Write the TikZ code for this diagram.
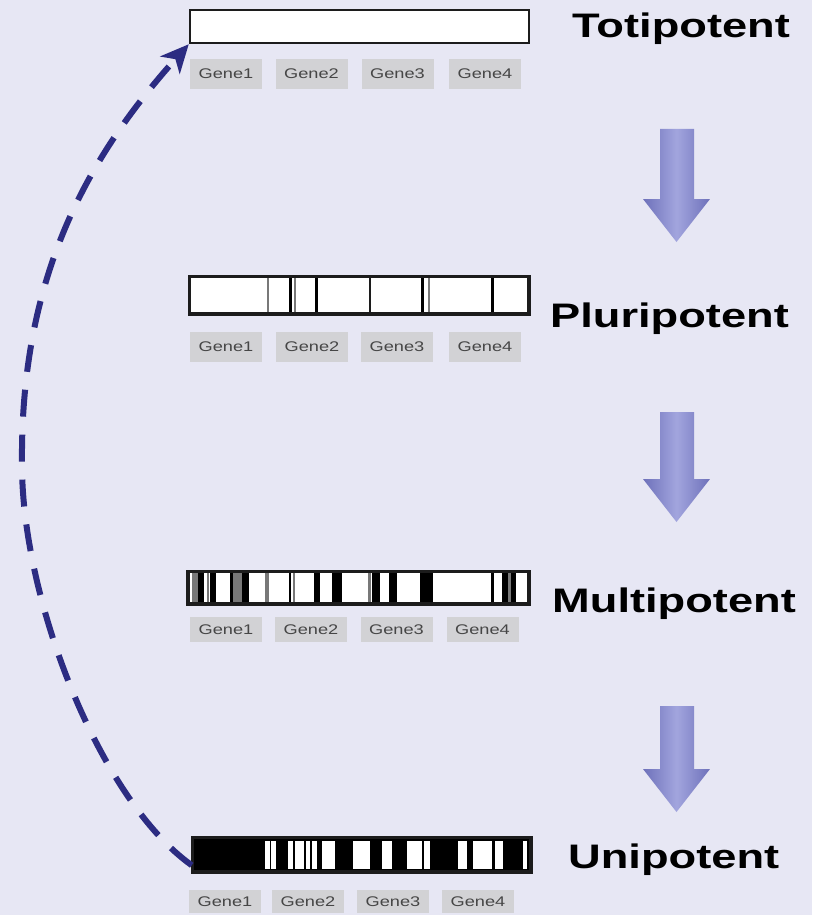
\documentclass[tikz,border=0pt]{standalone}
\usepackage{fontspec}
\setmainfont{Liberation Sans}
\usepackage{graphicx}
\usetikzlibrary{arrows.meta}
\definecolor{bg}{RGB}{231,231,244}
\definecolor{genebox}{RGB}{210,210,213}
\definecolor{genetext}{RGB}{70,70,70}
\definecolor{curvecol}{RGB}{44,44,130}
\definecolor{arrowlight}{RGB}{162,165,222}
\definecolor{arrowdark}{RGB}{110,113,186}
\definecolor{barline}{RGB}{28,28,28}
\definecolor{stripegray}{RGB}{120,120,120}
\newcommand\gtxt[1]{\scalebox{1.3}[1]{#1}}
\newcommand\ltxt[1]{\scalebox{1.33}[1]{#1}}
\begin{document}
\begin{tikzpicture}[x=1pt,y=-1pt,
  barbox/.style={draw=barline, line width=2.5pt, fill=white, inner sep=0pt},
  barborder/.style={draw=barline, line width=2.5pt},
  genenode/.style={fill=genebox, inner sep=0pt, minimum width=72pt, text=genetext,
    font=\fontsize{14}{16}\selectfont},
  stagelabel/.style={anchor=base west, inner sep=0pt, font=\fontsize{34}{40}\selectfont\bfseries},
  bigarrow/.style={shading=axis, left color=arrowdark, right color=arrowdark, middle color=arrowlight},
  returnline/.style={draw=curvecol, line width=6pt, dash pattern=on 27pt off 18pt,
    -{Stealth[length=28pt,width=26pt,inset=8pt]}}
]
\useasboundingbox (0,0) rectangle (812,915);
\fill[bg] (0,0) rectangle (812,915);

% ---- Totipotent ----
\node[barbox, minimum width=339pt, minimum height=33pt] (toti) at (359.5,26.5) {};
\node[genenode, minimum height=30pt] (t1) at (226,74) {\gtxt{Gene1}};
\node[genenode, minimum height=30pt] (t2) at (311.5,74) {\gtxt{Gene2}};
\node[genenode, minimum height=30pt] (t3) at (397.5,74) {\gtxt{Gene3}};
\node[genenode, minimum height=30pt] (t4) at (485,74) {\gtxt{Gene4}};
\node[stagelabel] (ltoti) at (572,38) {\ltxt{Totipotent}};

% ---- Pluripotent ----
\node[barbox, minimum width=338pt, minimum height=36pt] (pluri) at (359,295) {};
\foreach \a/\b/\c in {266.5/268.5/stripegray, 289/291.5/black, 294/296/stripegray,
  314.5/318/black, 368.5/370.5/barline, 421/423.5/black, 427.5/429.5/stripegray, 490.5/494/black}
  \fill[\c] (\a,278) rectangle (\b,312);
\draw[barborder] (pluri.north west) rectangle (pluri.south east);
\node[genenode, minimum height=30pt] (p1) at (226,347) {\gtxt{Gene1}};
\node[genenode, minimum height=30pt] (p2) at (312,347) {\gtxt{Gene2}};
\node[genenode, minimum height=30pt] (p3) at (397,347) {\gtxt{Gene3}};
\node[genenode, minimum height=30pt] (p4) at (485,347) {\gtxt{Gene4}};
\node[stagelabel] (lpluri) at (550,327) {\ltxt{Pluripotent}};

% ---- Multipotent ----
\node[barbox, minimum width=340pt, minimum height=31pt] (multi) at (358.5,587.5) {};
\foreach \a/\b/\c in {192/197.5/stripegray, 197.5/203.5/black, 206.5/208.5/stripegray,
  210/215.5/black, 230/233/black, 233/241.5/stripegray, 241.5/248.5/black,
  264.5/268.5/stripegray, 288.5/291/black, 292.5/295/stripegray, 313.5/320/black,
  332/342/black, 368/370.5/stripegray, 372/380/black, 388.5/396.5/black,
  420/433/black, 490.5/493.5/black, 502/508/black, 508/511/stripegray, 511/516/black}
  \fill[\c] (\a,573) rectangle (\b,602);
\draw[barborder] (multi.north west) rectangle (multi.south east);
\node[genenode, minimum height=25pt] (m1) at (226,629.5) {\gtxt{Gene1}};
\node[genenode, minimum height=25pt] (m2) at (311,629.5) {\gtxt{Gene2}};
\node[genenode, minimum height=25pt] (m3) at (396.5,629.5) {\gtxt{Gene3}};
\node[genenode, minimum height=25pt] (m4) at (482.5,629.5) {\gtxt{Gene4}};
\node[stagelabel] (lmulti) at (552,612) {\ltxt{Multipotent}};

% ---- Unipotent ----
\node[barbox, fill=black, minimum width=337pt, minimum height=33pt] (uni) at (361.5,854.5) {};
\foreach \a/\b in {265/269.5, 271/276, 287.5/293, 295/304, 306/310, 312/317, 322/335, 353/370,
  382/392, 407/422, 424/430, 458/467, 473/492, 495/503, 523/527}
  \fill[white] (\a,840.5) rectangle (\b,868.5);
\draw[barborder] (uni.north west) rectangle (uni.south east);
\node[genenode, minimum height=23pt] (u1) at (225,901.5) {\gtxt{Gene1}};
\node[genenode, minimum height=23pt] (u2) at (308,901.5) {\gtxt{Gene2}};
\node[genenode, minimum height=23pt] (u3) at (393,901.5) {\gtxt{Gene3}};
\node[genenode, minimum height=23pt] (u4) at (478,901.5) {\gtxt{Gene4}};
\node[stagelabel] (luni) at (568,868) {\ltxt{Unipotent}};

% ---- big down arrows ----
\foreach \t/\b in {129/242, 412/522, 706/812}
  \path[bigarrow] (660,\t) -- (694,\t) -- (694,\b-43) -- (710,\b-43) -- (676.5,\b)
    -- (643,\b-43) -- (660,\b-43) -- cycle;

% ---- dashed return curve ----
\coordinate (bend) at (22,465);
\draw[returnline] ([yshift=7pt]uni.south west) .. controls (100,800) and (22,600) .. (bend)
  .. controls (20,280) and (85,160) .. (toti.south west);
\end{tikzpicture}
\end{document}
